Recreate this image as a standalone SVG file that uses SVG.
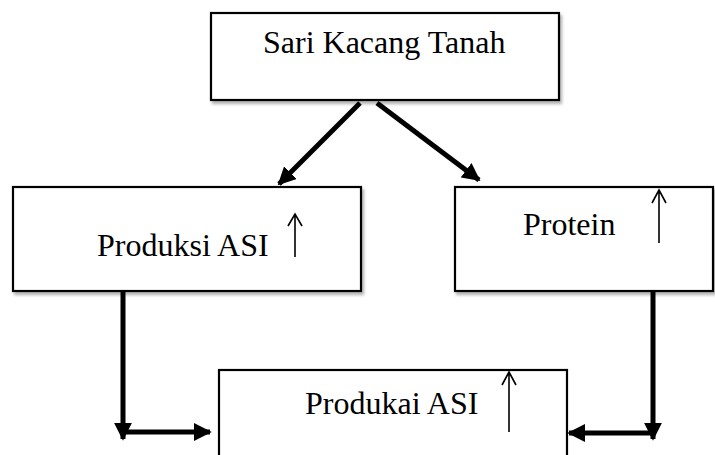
<svg xmlns="http://www.w3.org/2000/svg" width="715" height="455" viewBox="0 0 715 455">
<defs>
<style>
.box{fill:#fff;stroke:#000;stroke-width:2.2}
.t{font-family:"Liberation Serif","Times New Roman",serif;font-size:32px;fill:#000}
.c{fill:none;stroke:#000;stroke-width:5}
.up{fill:none;stroke:#000;stroke-width:1.6}
</style>
<filter id="sh" x="-5%" y="-5%" width="115%" height="120%">
<feDropShadow dx="2" dy="3" stdDeviation="1.5" flood-color="#000" flood-opacity="0.3"/>
</filter>
<marker id="ah" viewBox="0 0 10 10" refX="9" refY="5" markerWidth="3.6" markerHeight="3.6" orient="auto" markerUnits="strokeWidth">
<path d="M0,0 L10,5 L0,10 z" fill="#000"/>
</marker>
</defs>
<rect width="715" height="455" fill="#fff"/>
<g id="node-sari">
<rect class="box" filter="url(#sh)" x="211" y="13" width="348" height="87"/>
<text class="t" x="263" y="53">Sari Kacang Tanah</text>
</g>
<g id="node-produksi">
<rect class="box" filter="url(#sh)" x="13" y="187" width="348" height="104"/>
<text class="t" x="97" y="256">Produksi ASI</text>
<path class="up" d="M295,257 V214 M288,226 L295,214 L302,226"/>
</g>
<g id="node-protein">
<rect class="box" filter="url(#sh)" x="455" y="187" width="258" height="104"/>
<text class="t" x="523" y="235">Protein</text>
<path class="up" d="M659,243 V190 M652,203 L659,190 L666,203"/>
</g>
<g id="node-produkai">
<rect class="box" x="219" y="370" width="348" height="100"/>
<text class="t" x="305" y="414">Produkai ASI</text>
<path class="up" d="M509,432 V372 M502,385 L509,372 L516,385"/>
</g>
<g id="connectors">
<line class="c" x1="360" y1="103" x2="279" y2="184" marker-end="url(#ah)"/>
<line class="c" x1="377" y1="103" x2="479" y2="180" marker-end="url(#ah)"/>
<path class="c" d="M123,291 V439" marker-end="url(#ah)"/>
<path class="c" d="M121,432 H210" marker-end="url(#ah)"/>
<path class="c" d="M653,291 V439" marker-end="url(#ah)"/>
<path class="c" d="M655,433 H569" marker-end="url(#ah)"/>
</g>
</svg>
